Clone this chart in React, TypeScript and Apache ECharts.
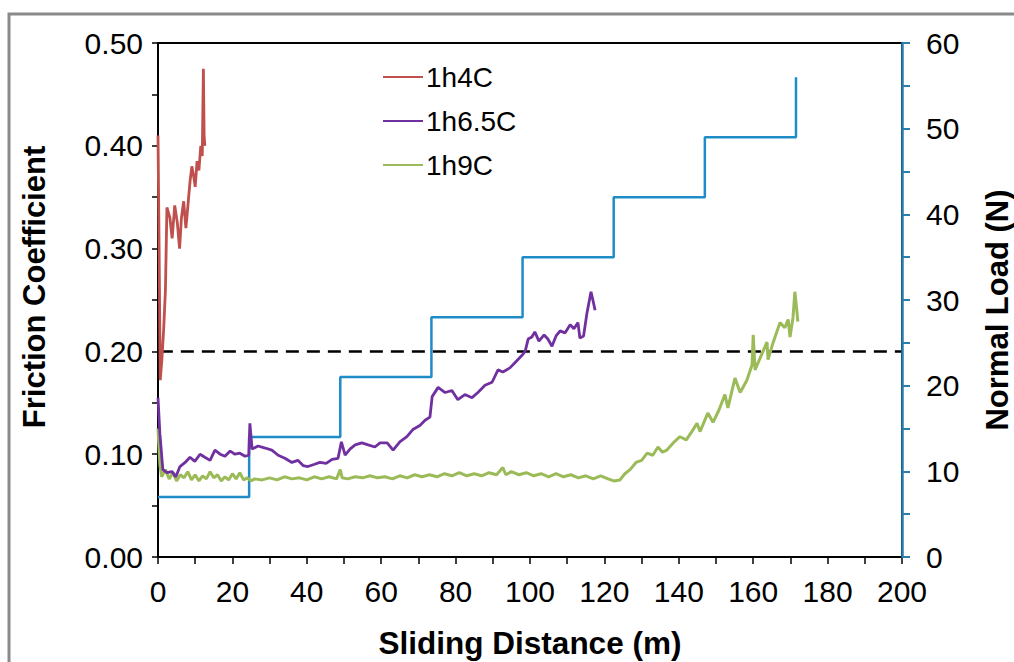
import React, { useEffect, useRef } from "react";
import * as echarts from "echarts";

// Friction coefficient series [sliding distance (m), friction coefficient]
const red1h4C: [number, number][] = [
  [0, 0.41], [0.3, 0.3], [0.6, 0.172], [1.0, 0.19], [1.5, 0.22], [2.0, 0.26], [2.4, 0.34],
  [3.2, 0.33], [3.8, 0.31], [4.5, 0.342], [5.2, 0.325], [5.8, 0.3], [6.3, 0.33],
  [6.9, 0.346], [7.5, 0.32], [8.0, 0.34], [8.6, 0.365], [9.1, 0.38], [9.6, 0.37],
  [10.0, 0.36], [10.5, 0.385], [11.0, 0.376], [11.5, 0.4], [11.9, 0.39], [12.2, 0.475],
  [12.4, 0.41], [12.6, 0.4],
];

const purple1h65C: [number, number][] = [
  [0, 0.155], [0.5, 0.12], [1.3, 0.085], [2.4, 0.082], [3.8, 0.083], [4.8, 0.078],
  [5.9, 0.088], [7.3, 0.092], [8.6, 0.097], [9.9, 0.093], [11.3, 0.1], [12.6, 0.097],
  [14.0, 0.094], [15.3, 0.104], [16.7, 0.1], [18.0, 0.098], [19.4, 0.103], [20.7, 0.1],
  [22.0, 0.101], [23.4, 0.098], [24.4, 0.099], [24.7, 0.13], [25.3, 0.105], [26.9, 0.108],
  [28.8, 0.106], [30.6, 0.104], [32.3, 0.099], [34.1, 0.096], [36.0, 0.092], [37.6, 0.094],
  [39.0, 0.089], [40.3, 0.088], [41.9, 0.09], [43.5, 0.092], [45.2, 0.091], [46.8, 0.095],
  [48.4, 0.096], [49.3, 0.112], [50.3, 0.099], [51.6, 0.105], [53.0, 0.109], [54.8, 0.111],
  [56.5, 0.109], [58.3, 0.107], [59.7, 0.111], [61.6, 0.111], [63.2, 0.104], [65.0, 0.112],
  [66.9, 0.117], [68.5, 0.124], [70.4, 0.128], [71.8, 0.133], [73.1, 0.136], [73.7, 0.156],
  [75.3, 0.165], [77.2, 0.16], [79.0, 0.162], [80.6, 0.153], [82.5, 0.158], [84.4, 0.155],
  [86.0, 0.16], [87.9, 0.167], [89.8, 0.17], [91.4, 0.182], [92.7, 0.18], [94.6, 0.184],
  [96.2, 0.19], [97.8, 0.196], [98.7, 0.2], [99.5, 0.212], [100.5, 0.214], [101.3, 0.219],
  [102.4, 0.21], [103.8, 0.216], [104.8, 0.212], [105.9, 0.205], [107.0, 0.215],
  [108.1, 0.22], [109.4, 0.218], [110.8, 0.226], [111.8, 0.222], [112.9, 0.228],
  [113.4, 0.213], [114.4, 0.215], [115.3, 0.237], [116.4, 0.258], [116.9, 0.25], [117.5, 0.24],
];

const green1h9C: [number, number][] = [
  [0, 0.125], [0.5, 0.09], [1, 0.078], [2, 0.085], [3, 0.076], [4, 0.082], [5, 0.074],
  [6, 0.08], [7, 0.077], [8, 0.083], [9, 0.075], [10, 0.08], [11, 0.074], [12, 0.079],
  [13, 0.076], [14, 0.083], [15, 0.077], [16, 0.08], [17, 0.074], [18, 0.078], [19, 0.075],
  [20, 0.081], [21, 0.076], [22, 0.082], [23, 0.075], [24, 0.077], [25, 0.074], [26, 0.076],
  [28, 0.075], [30, 0.077], [32, 0.075], [34, 0.078], [36, 0.076], [38, 0.077], [40, 0.075],
  [42, 0.078], [44, 0.076], [46, 0.078], [48, 0.076], [49, 0.085], [49.5, 0.077], [51, 0.076],
  [53, 0.078], [55, 0.077], [57, 0.079], [59, 0.077], [61, 0.078], [63, 0.076], [65, 0.079],
  [67, 0.077], [69, 0.08], [71, 0.078], [73, 0.08], [75, 0.078], [77, 0.081], [79, 0.079],
  [81, 0.082], [83, 0.079], [85, 0.081], [87, 0.079], [89, 0.082], [91, 0.08], [92.7, 0.087],
  [93.5, 0.08], [95, 0.083], [97, 0.08], [99, 0.082], [101, 0.079], [103, 0.081], [105, 0.078],
  [107, 0.081], [109, 0.078], [111, 0.08], [113, 0.077], [115, 0.079], [117, 0.076],
  [119, 0.079], [121, 0.076], [122.5, 0.074], [124.2, 0.075], [125.5, 0.081], [126.9, 0.085],
  [128.5, 0.092], [130.0, 0.094], [131.5, 0.101], [133.0, 0.099], [134.4, 0.107],
  [135.6, 0.102], [136.8, 0.104], [138.5, 0.111], [140.3, 0.117], [142.0, 0.114],
  [143.5, 0.122], [144.9, 0.13], [145.7, 0.122], [147.8, 0.14], [149.2, 0.131],
  [150.8, 0.143], [152.4, 0.158], [153.2, 0.145], [155.1, 0.174], [156.5, 0.16],
  [158.3, 0.172], [159.7, 0.187], [160.0, 0.216], [160.5, 0.182], [162.4, 0.198],
  [163.7, 0.209], [164.0, 0.192], [165.3, 0.208], [167.2, 0.228], [168.5, 0.223],
  [169.4, 0.231], [169.9, 0.214], [170.7, 0.233], [171.2, 0.258], [171.8, 0.237], [172.0, 0.229],
];

// Normal load steps
const stepStarts = [0, 24.5, 49, 73.5, 98, 122.5, 147, 171.5];
const stepLoads = [7, 14, 21, 28, 35, 42, 49, 56];
const loadEnd = 171.5;

const thresholdFriction = 0.2;

const xTickMax = 200;
const leftMax = 0.5;
const rightMax = 60;

function buildLoad(): [number, number][] {
  const pts: [number, number][] = [];
  for (let i = 0; i < stepStarts.length; i++) {
    const s = stepStarts[i];
    const e = i + 1 < stepStarts.length ? stepStarts[i + 1] : loadEnd;
    pts.push([s, stepLoads[i]]);
    pts.push([e, stepLoads[i]]);
  }
  return pts;
}

const FONT = "'Liberation Sans', Arial, sans-serif";

export default function App() {
  const ref = useRef<HTMLDivElement>(null);
  useEffect(() => {
    if (!ref.current) return;
    const chart = echarts.init(ref.current, undefined, { renderer: "svg" });
    const lineCommon = {
      type: "line" as const,
      showSymbol: false,
      symbol: "none",
    };
    chart.setOption({
      animation: false,
      backgroundColor: "#fff",
      textStyle: { fontFamily: FONT },
      grid: {
        left: 158,
        right: 112,
        top: 43,
        bottom: 105,
        show: true,
        borderColor: "#000",
        borderWidth: 2,
        backgroundColor: "transparent",
        containLabel: false,
        outerBoundsMode: "none",
      },
      graphic: [
        {
          type: "rect",
          shape: { x: 9, y: 14, width: 1100, height: 800 },
          style: { fill: "none", stroke: "#8a8a8a", lineWidth: 3 },
          z: -10,
        },
      ],
      legend: {
        orient: "vertical",
        left: 383,
        top: 63,
        padding: 0,
        icon: "rect",
        itemWidth: 40,
        itemHeight: 2,
        itemGap: 16,
        textStyle: { fontSize: 28, color: "#000", fontFamily: FONT, padding: [0, 0, 0, -2] },
        data: ["1h4C", "1h6.5C", "1h9C"],
      },
      xAxis: {
        type: "value",
        min: 0,
        max: xTickMax,
        interval: 20,
        name: "Sliding Distance (m)",
        nameLocation: "middle",
        nameGap: 70,
        nameTextStyle: { fontSize: 31.5, fontWeight: "bold", color: "#000", fontFamily: FONT },
        axisLine: { show: true, lineStyle: { color: "#000", width: 2 } },
        axisTick: { show: true, length: 7, lineStyle: { color: "#000", width: 1.5 } },
        minorTick: { show: true, splitNumber: 2, length: 7, lineStyle: { color: "#000", width: 1.5 } },
        axisLabel: { fontSize: 30, color: "#000", margin: 19, fontFamily: FONT },
        splitLine: { show: false },
      },
      yAxis: [
        {
          type: "value",
          min: 0,
          max: leftMax,
          interval: 0.1,
          name: "Friction Coefficient",
          nameLocation: "middle",
          nameGap: 108,
          nameTextStyle: {
            fontSize: 31,
            fontWeight: "bold",
            color: "#000",
            fontFamily: FONT,
            padding: [0, 0, 0, 26],
          },
          axisLine: { show: true, lineStyle: { color: "#000", width: 2 } },
          axisTick: { show: true, length: 6, lineStyle: { color: "#000", width: 1.5 } },
          minorTick: { show: true, splitNumber: 2, length: 6, lineStyle: { color: "#000", width: 1.5 } },
          axisLabel: {
            fontSize: 30,
            color: "#000",
            margin: 15,
            fontFamily: FONT,
            formatter: (v: number) => v.toFixed(2),
          },
          splitLine: { show: false },
        },
        {
          type: "value",
          min: 0,
          max: rightMax,
          interval: 10,
          position: "right",
          name: "Normal Load (N)",
          nameLocation: "middle",
          nameGap: 80,
          nameRotate: 90,
          nameTextStyle: {
            fontSize: 31,
            fontWeight: "bold",
            color: "#000",
            fontFamily: FONT,
            padding: [0, 20, 0, 0],
          },
          axisLine: { show: true, lineStyle: { color: "#2a7fae", width: 2.5 } },
          axisTick: { show: true, length: 8, lineStyle: { color: "#2a7fae", width: 2 } },
          minorTick: { show: true, splitNumber: 2, length: 8, lineStyle: { color: "#2a7fae", width: 2 } },
          axisLabel: { fontSize: 30, color: "#000", margin: 24, fontFamily: FONT },
          splitLine: { show: false },
          z: 5,
        },
      ],
      series: [
        {
          ...lineCommon,
          name: "Normal Load",
          yAxisIndex: 1,
          data: buildLoad(),
          lineStyle: { color: "#1f8cc8", width: 2.5 },
          itemStyle: { color: "#1f8cc8" },
          z: 2,
        },
        {
          ...lineCommon,
          name: "threshold",
          yAxisIndex: 0,
          data: [
            [0.5, thresholdFriction],
            [xTickMax, thresholdFriction],
          ],
          lineStyle: { color: "#000", width: 2.5, type: [13, 8] },
          itemStyle: { color: "#000" },
          z: 3,
        },
        {
          ...lineCommon,
          name: "1h9C",
          yAxisIndex: 0,
          data: green1h9C,
          lineStyle: { color: "#9bbb59", width: 3 },
          itemStyle: { color: "#9bbb59" },
          z: 4,
        },
        {
          ...lineCommon,
          name: "1h6.5C",
          yAxisIndex: 0,
          data: purple1h65C,
          lineStyle: { color: "#7030a0", width: 2.8 },
          itemStyle: { color: "#7030a0" },
          z: 4,
        },
        {
          ...lineCommon,
          name: "1h4C",
          yAxisIndex: 0,
          data: red1h4C,
          lineStyle: { color: "#c0504d", width: 2.8 },
          itemStyle: { color: "#c0504d" },
          z: 4,
        },
      ],
    });
    return () => chart.dispose();
  }, []);
  return <div ref={ref} style={{ width: 1014, height: 662, position: "absolute", left: 0, top: 0 }} />;
}
